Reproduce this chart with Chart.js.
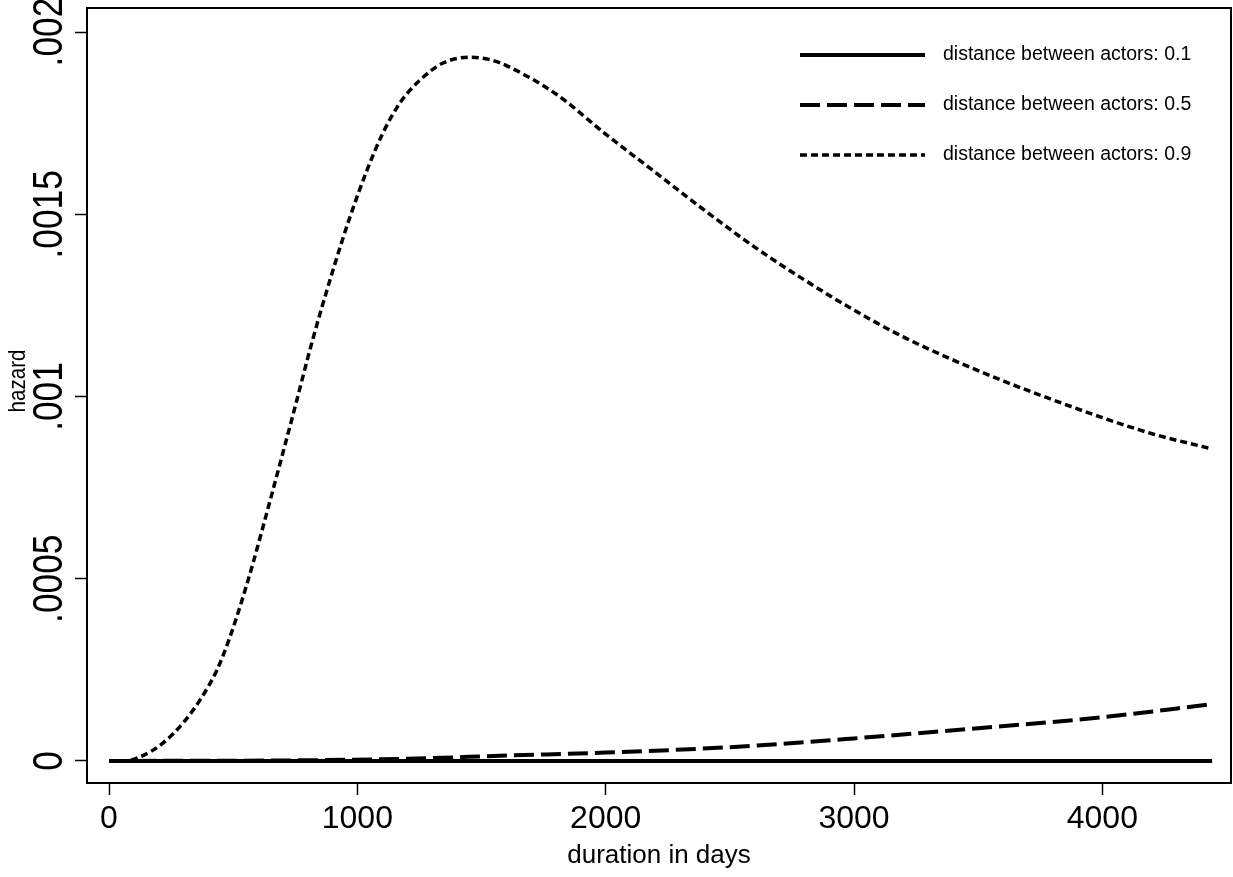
<!DOCTYPE html>
<html>
<head>
<meta charset="utf-8">
<script src="https://cdn.jsdelivr.net/npm/chart.js@4.4.1/dist/chart.umd.min.js"></script>
<style>
  html, body { margin: 0; padding: 0; background: #fff; }
</style>
</head>
<body>
<canvas id="myChart" width="1233" height="877"></canvas>
<script>
// hazard curves (x = duration in days)
var days01 = [0, 4442];
var haz01 = [0, 0];

var days05 = [0, 800, 1200, 1600, 2000, 2500, 3000, 3500, 4000, 4442];
var haz05 = [0, 0.000002, 0.000006, 0.000015, 0.000023, 0.000038, 0.000062, 0.00009, 0.00012, 0.000156];

var days09 = [0, 60, 125, 217, 298, 366, 435, 487, 536, 580, 620, 660, 709, 741, 821, 902, 970, 1039, 1103, 1172,
  1252, 1345, 1454, 1546, 1600, 1800, 2000, 2200, 2400, 2600, 2800, 3000, 3200, 3400, 3600, 3800, 4000, 4200, 4442];
var haz09 = [0, 0, 0.000011, 0.000049, 0.000104, 0.000167, 0.00025, 0.00034, 0.000442, 0.000543, 0.000642, 0.000743,
  0.000868, 0.00095, 0.001158, 0.001347, 0.001492, 0.001621, 0.001723, 0.001806, 0.001868, 0.001915, 0.001931,
  0.001922, 0.001908, 0.00183, 0.00172, 0.001615, 0.00151, 0.00141, 0.00132, 0.001237, 0.001163, 0.0011, 0.001043,
  0.000991, 0.000942, 0.000898, 0.000856];

var seriesNames = ["distance between actors: 0.1", "distance between actors: 0.5", "distance between actors: 0.9"];
var xTickValues = [0, 1000, 2000, 3000, 4000];
var yTickValues = [0, 0.0005, 0.001, 0.0015, 0.002];
var yTickLabels = ["0", ".0005", ".001", ".0015", ".002"];

var sans = "'Liberation Sans', Arial, sans-serif";

function toPoints(xs, ys) {
  var pts = [];
  for (let i = 0; i < xs.length; i++) pts.push({ x: xs[i], y: ys[i] });
  return pts;
}

// rotated y tick labels + title, the box round the plot, and the legend inside it
var stataBits = {
  id: "stataBits",
  afterDraw: function (chart) {
    var ctx = chart.ctx;
    var area = chart.chartArea;
    var yScale = chart.scales.y;
    ctx.save();
    ctx.fillStyle = "#000";
    ctx.font = "42px " + sans;
    ctx.textAlign = "center";
    ctx.textBaseline = "alphabetic";
    for (let i = 0; i < yTickValues.length; i++) {
      ctx.save();
      ctx.translate(62, yScale.getPixelForValue(yTickValues[i]));
      ctx.rotate(-Math.PI / 2);
      ctx.scale(0.84, 1);
      ctx.fillText(yTickLabels[i], 0, 0);
      ctx.restore();
    }
    ctx.save();
    ctx.font = "24px " + sans;
    ctx.translate(25, 381);
    ctx.rotate(-Math.PI / 2);
    ctx.scale(0.86, 1);
    ctx.fillText("hazard", 0, 0);
    ctx.restore();

    ctx.strokeStyle = "#000";
    ctx.lineWidth = 2;
    ctx.strokeRect(area.left, area.top, area.right - area.left, area.bottom - area.top);

    var sets = chart.data.datasets;
    ctx.font = "19.5px " + sans;
    ctx.textAlign = "left";
    ctx.textBaseline = "middle";
    for (let i = 0; i < sets.length; i++) {
      var ly = 55 + i * 50;
      ctx.beginPath();
      ctx.lineWidth = sets[i].borderWidth;
      ctx.setLineDash(sets[i].borderDash);
      ctx.moveTo(800, ly);
      ctx.lineTo(925, ly);
      ctx.stroke();
      ctx.setLineDash([]);
      ctx.fillText(sets[i].label, 943, ly);
    }
    ctx.restore();
  }
};

new Chart("myChart", {
  type: "line",
  data: {
    datasets: [{
      label: seriesNames[0],
      data: toPoints(days01, haz01),
      borderColor: "#000",
      borderWidth: 4,
      borderDash: []
    }, {
      label: seriesNames[1],
      data: toPoints(days05, haz05),
      borderColor: "#000",
      borderWidth: 4,
      borderDash: [20, 7]
    }, {
      label: seriesNames[2],
      data: toPoints(days09, haz09),
      borderColor: "#000",
      borderWidth: 3.5,
      borderDash: [7, 4]
    }]
  },
  options: {
    responsive: false,
    animation: false,
    devicePixelRatio: 1,
    layout: { padding: { top: 8, right: 2, left: 0, bottom: 0 } },
    elements: {
      point: { radius: 0 },
      line: { cubicInterpolationMode: "monotone", borderCapStyle: "butt" }
    },
    plugins: {
      legend: { display: false },
      tooltip: { enabled: false }
    },
    scales: {
      x: {
        type: "linear",
        min: -88.6,
        max: 4518,
        afterBuildTicks: function (scale) {
          scale.ticks = xTickValues.map(function (v) { return { value: v }; });
        },
        afterFit: function (scale) { scale.height = 94; },
        grid: { display: true, drawOnChartArea: false, tickLength: 12, tickColor: "#000", tickWidth: 1.5 },
        border: { display: false },
        ticks: {
          color: "#000",
          padding: 5,
          maxRotation: 0,
          font: { family: sans, size: 32 },
          callback: function (v) { return String(v); }
        },
        title: {
          display: true,
          text: "duration in days",
          color: "#000",
          font: { family: sans, size: 26 },
          padding: { top: 0, bottom: 6 }
        }
      },
      y: {
        type: "linear",
        min: -0.0000604,
        max: 0.002066,
        afterBuildTicks: function (scale) {
          scale.ticks = yTickValues.map(function (v) { return { value: v }; });
        },
        afterFit: function (scale) { scale.width = 87; },
        grid: { display: true, drawOnChartArea: false, tickLength: 12, tickColor: "#000", tickWidth: 1.5 },
        border: { display: false },
        ticks: { display: false },
        title: { display: false }
      }
    }
  },
  plugins: [stataBits]
});
</script>
</body>
</html>
